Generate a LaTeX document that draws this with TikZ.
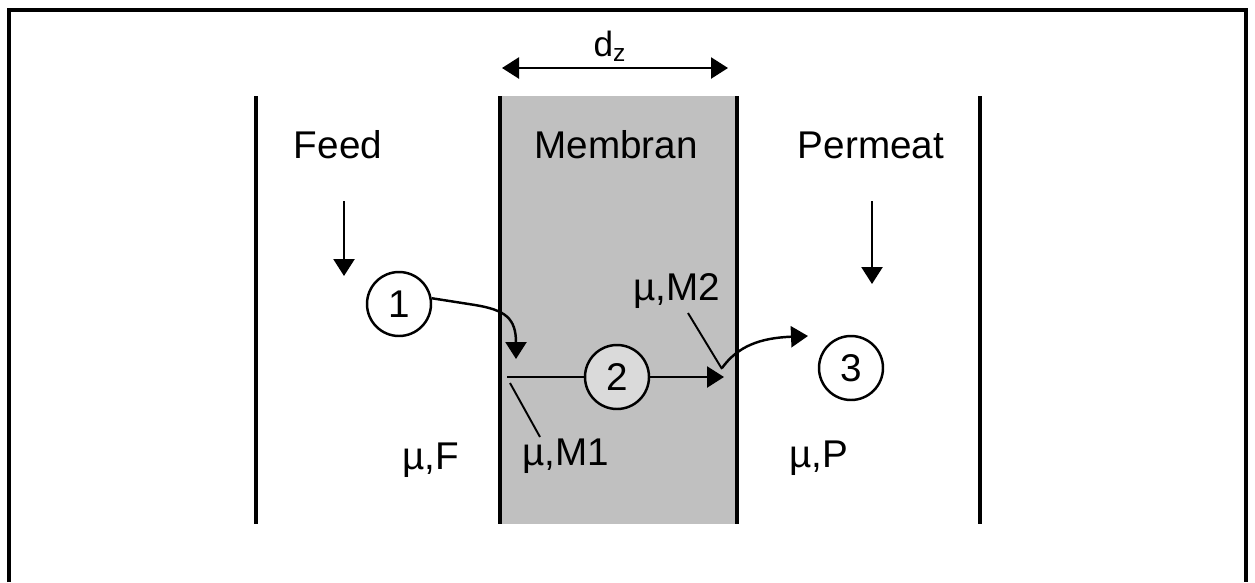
\documentclass[tikz,border=0pt]{standalone}
\usepackage{fontspec}
\setmainfont{Liberation Sans}
\usepackage{tikz}
\usetikzlibrary{positioning, calc, arrows.meta}
\definecolor{MemGray}{HTML}{C0C0C0}
\definecolor{PartGray}{HTML}{DADADA}

\tikzset{
  wall/.style={line width=2.3pt},
  tip/.style={-{Triangle[length=0.34cm, width=0.42cm]}},
  flow/.style={line width=1.4pt, tip},
  particle/.style={circle, draw, line width=1.4pt, minimum size=1.28cm, inner sep=0pt, font=\fontsize{22}{26}\selectfont},
  lbl/.style={font=\fontsize{22}{26}\selectfont, inner sep=0pt}
}

\begin{document}
\begin{tikzpicture}[x=0.02cm, y=-0.02cm]
      \useasboundingbox (0,0) rectangle (1255,582);
      %% Outer frame (open at the bottom)
      \draw[line width=2.4pt] (9,582) -- (9,10) -- (1246,10) -- (1246,582);
      %% Membrane
      \fill[MemGray] (500,96) rectangle (737,524);
      \draw[wall] (500,96) -- (500,524);
      \draw[wall] (737,96) -- (737,524);
      %% Feed and permeate walls
      \draw[wall] (256,96) -- (256,524);
      \draw[wall] (980,96) -- (980,524);
      %% Thickness d_z
      \coordinate (dzL) at (502,68);
      \coordinate (dzR) at (728,68);
      \draw[line width=1.4pt, {Triangle[length=0.34cm, width=0.42cm]}-{Triangle[length=0.34cm, width=0.42cm]}] (dzL) -- (dzR);
      \node[lbl, font=\fontsize{20}{22}\selectfont] (dz) at (610,46) {d\textsubscript{z}};
      %% Region titles
      \node[lbl] (feed) at (338,145) {Feed};
      \node[lbl] (membran) at (616,145) {Membran};
      \node[lbl] (permeat) at (871,145) {Permeat};
      %% Stream direction arrows
      \coordinate (feedA) at (344,201);
      \coordinate (feedB) at (344,276);
      \draw[flow] (feedA) -- (feedB);
      \coordinate (permA) at (872,201);
      \coordinate (permB) at (872,284);
      \draw[flow] (permA) -- (permB);
      %% Particles
      \node[particle] (p1) at (399,304) {1};
      \node[particle, fill=PartGray] (p2) at (617,377) {2};
      \node[particle] (p3) at (851,368) {3};
      %% Transport path
      \coordinate (sorb) at (516,359);
      \coordinate (inL) at (507,377);
      \coordinate (inR) at (724,377);
      \coordinate (desorb) at (722,368);
      \coordinate (out) at (808,336);
      \draw[flow] (p1.10) -- (475,305) .. controls (505,310) and (516,318) .. (sorb);
      \draw[line width=1.4pt] (inL) -- (p2.west);
      \draw[flow] (p2.east) -- (inR);
      \draw[flow] (desorb) .. controls (738,346) and (760,338) .. (out);
      %% Chemical potentials
      \node[lbl] (muF) at (431,460) {µ,F};
      \node[lbl] (muM1) at (566,456) {µ,M1};
      \node[lbl] (muM2) at (677,291) {µ,M2};
      \node[lbl] (muP) at (819,458) {µ,P};
      \coordinate (m1base) at (540,437);
      \coordinate (m1tip) at (510,383);
      \coordinate (m2base) at (688,313);
      \coordinate (m2tip) at (722,369);
      \draw[line width=1.1pt] (m1base) -- (m1tip);
      \draw[line width=1.1pt] (m2base) -- (m2tip);
    \end{tikzpicture}
\end{document}
